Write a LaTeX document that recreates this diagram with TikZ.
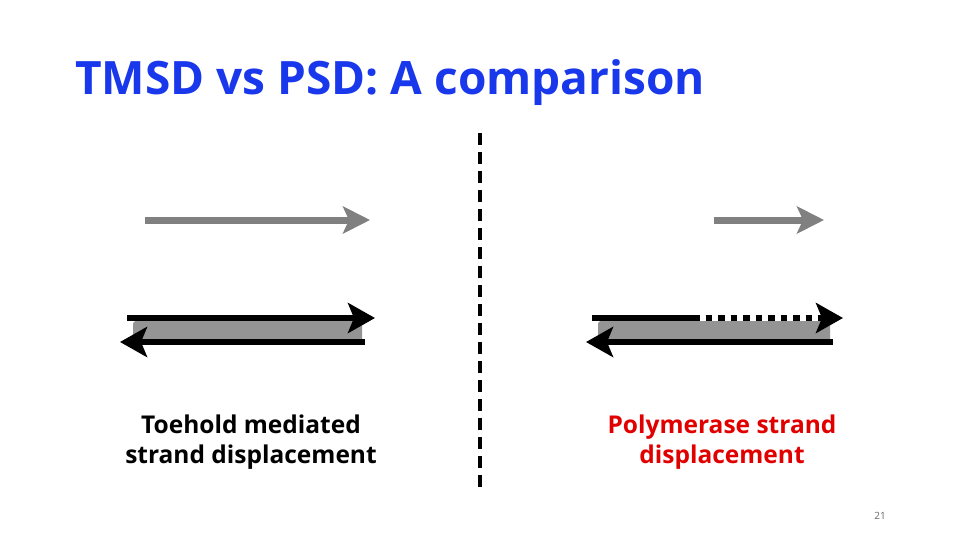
\documentclass[tikz,border=0pt]{standalone}
\usepackage{fontspec}
\setmainfont{Open Sans}
\usetikzlibrary{arrows.meta}
\definecolor{titleblue}{RGB}{25,55,235}
\definecolor{labelred}{RGB}{225,0,0}
\tikzset{
	strand/.style={line width=6pt, -{Stealth[length=27pt, width=30pt, inset=6pt]}},
	primer/.style={line width=7pt, black!50, -{Stealth[length=27pt, width=27pt, inset=6pt]}},
	duplex/.style={fill=black!42, rounded corners=3pt},
	label/.style={font=\bfseries\fontsize{24.5}{30}\selectfont, align=center, anchor=base}
}
\begin{document}
\begin{tikzpicture}[x=1pt, y=-1pt]
	\useasboundingbox (0,0) rectangle (960,540);
	
	% Draw title
	\node[anchor=base west, inner sep=0pt, text=titleblue, font=\bfseries\fontsize{46}{52}\selectfont] (title) at (75,95) {TMSD vs PSD: A comparison};
	
	% Draw divider
	\coordinate (divtop) at (480,133);
	\coordinate (divbot) at (480,487);
	\draw[line width=4pt, dash pattern=on 12pt off 7pt] (divtop) -- (divbot);
	
	% Left: toehold mediated
	\coordinate (LinA) at (145,220); % Invading strand
	\coordinate (LinB) at (370,220);
	\coordinate (LtopA) at (127,318); % Top strand
	\coordinate (LtopB) at (375,318);
	\coordinate (LbotA) at (365,342); % Bottom strand
	\coordinate (LbotB) at (120,342);
	\fill[duplex] (133,321) rectangle (362,342);
	\draw[primer] (LinA) -- (LinB);
	\draw[strand] (LtopA) -- (LtopB);
	\draw[strand] (LbotA) -- (LbotB);
	
	% Right: polymerase
	\coordinate (RinA) at (714,220); % Primer
	\coordinate (RinB) at (824,220);
	\coordinate (RtopA) at (592,318); % Top strand
	\coordinate (RtopM) at (693,318); % Start of extension
	\coordinate (RtopB) at (843,318);
	\coordinate (RbotA) at (833,342); % Bottom strand
	\coordinate (RbotB) at (586,342);
	\fill[duplex] (598,321) rectangle (830,343);
	\draw[primer] (RinA) -- (RinB);
	\draw[line width=6pt] (RtopA) -- (RtopM);
	\draw[strand, dash pattern=on 6.5pt off 6pt] (RtopM) -- (RtopB);
	\draw[strand] (RbotA) -- (RbotB);
	
	% Draw labels
	\node[label] (tmsd) at (251,463) {Toehold mediated\\strand displacement};
	\node[label, text=labelred] (psd) at (722,463) {Polymerase strand\\displacement};
	\node[anchor=base, text=black!60, font=\fontsize{10}{12}\selectfont] (page) at (880,519) {21};
\end{tikzpicture}
\end{document}
